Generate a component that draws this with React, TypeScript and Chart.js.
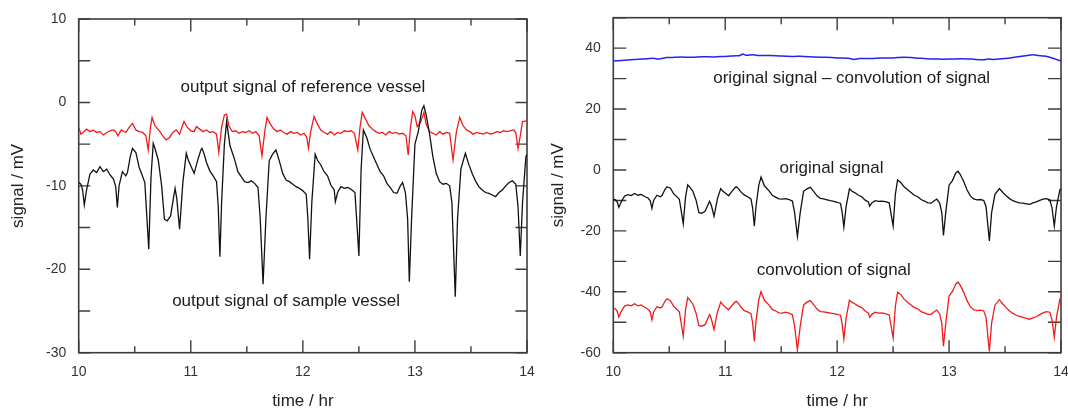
import React, { useEffect, useRef } from 'react';
import { Chart, registerables } from 'chart.js';

Chart.register(...registerables);

// ---------- data ----------
const timeHr = [
  10.00, 10.02, 10.035, 10.05, 10.07, 10.10, 10.13, 10.16, 10.19, 10.22,
  10.25, 10.28, 10.31, 10.33, 10.345, 10.36, 10.39, 10.42, 10.435, 10.46,
  10.48, 10.51, 10.54, 10.56, 10.59, 10.605, 10.625, 10.645, 10.665, 10.68,
  10.71, 10.74, 10.765, 10.79, 10.82, 10.845, 10.86, 10.875, 10.90, 10.93,
  10.96, 10.98, 11.00, 11.03, 11.06, 11.09, 11.10, 11.12, 11.14, 11.17,
  11.20, 11.23, 11.245, 11.26, 11.275, 11.30, 11.32, 11.35, 11.39, 11.42,
  11.45, 11.48, 11.51, 11.54, 11.57, 11.60, 11.62, 11.645, 11.67, 11.70,
  11.73, 11.76, 11.79, 11.82, 11.85, 11.88, 11.91, 11.94, 11.97, 12.00,
  12.03, 12.045, 12.06, 12.08, 12.11, 12.13, 12.16, 12.19, 12.22, 12.25,
  12.28, 12.29, 12.31, 12.34, 12.37, 12.40, 12.43, 12.465, 12.48, 12.50,
  12.52, 12.54, 12.57, 12.60, 12.63, 12.66, 12.69, 12.72, 12.75, 12.78,
  12.81, 12.84, 12.87, 12.89, 12.915, 12.935, 12.95, 12.97, 13.00, 13.03,
  13.06, 13.08, 13.10, 13.13, 13.16, 13.19, 13.22, 13.25, 13.28, 13.31,
  13.33, 13.36, 13.38, 13.41, 13.45, 13.48, 13.51, 13.54, 13.57, 13.60,
  13.63, 13.66, 13.69, 13.72, 13.75, 13.78, 13.81, 13.84, 13.87, 13.90,
  13.92, 13.94, 13.96, 13.99, 14.00,
];

// output signal of sample vessel (= original signal)
const sampleVessel = [
  -9.6, -9.8, -10.5, -12.3, -10.5, -8.6, -8.1, -8.4, -7.7, -8.3,
  -8.0, -8.7, -9.2, -10.1, -12.6, -10.0, -8.3, -8.8, -8.4, -6.5,
  -5.5, -6.0, -7.8, -8.5, -9.6, -13, -17.6, -9, -4.9, -5.5,
  -6.9, -10.0, -14.0, -14.2, -13.6, -11.5, -10.3, -11.5, -15.2, -9.5,
  -6.1, -7.0, -7.6, -8.5, -7.0, -5.7, -5.5, -6.2, -7.2, -8.2,
  -8.8, -9.5, -12.5, -18.5, -12, -5.0, -2.3, -5.2, -6.8, -8.3,
  -8.9, -9.5, -9.6, -9.4, -9.7, -10.2, -14, -21.8, -14, -7.0,
  -6.2, -5.7, -7.0, -8.5, -9.3, -9.5, -9.8, -10.1, -10.3, -10.6,
  -11.0, -14, -18.8, -12, -6.2, -6.9, -7.5, -8.3, -8.8, -9.9,
  -10.5, -11.9, -10.8, -10.1, -10.3, -10.2, -10.4, -10.8, -14, -18.4,
  -8, -3.3, -4.2, -5.6, -6.5, -7.4, -8.3, -8.8, -9.7, -10.2,
  -10.8, -10.9, -10.0, -9.6, -10.8, -14, -21.5, -14, -5.0, -3.5,
  -1.0, -0.4, -1.5, -3.7, -6.5, -8.5, -9.5, -9.8, -9.7, -10.0,
  -12, -23.3, -14, -8.0, -6.1, -7.4, -8.5, -9.4, -10.1, -10.5,
  -10.8, -10.9, -11.1, -11.3, -10.8, -10.5, -10.0, -9.6, -9.4, -9.8,
  -12.5, -18.4, -12, -6.5, -6.2,
];

// convolution of signal (right chart, red)
const convolution = [
  -45.4, -45.7, -46.4, -48.3, -46.5, -44.7, -44.3, -44.6, -43.9, -44.6,
  -44.3, -45.1, -45.7, -46.6, -49.2, -46.6, -44.9, -45.3, -45.0, -43.2,
  -42.3, -42.9, -44.8, -45.5, -46.6, -50.0, -54.6, -46.0, -41.9, -42.6,
  -44.0, -47.1, -51.1, -51.3, -50.8, -48.7, -47.5, -48.7, -52.4, -46.7,
  -43.4, -44.3, -45.0, -45.9, -44.5, -43.3, -43.1, -43.9, -45.0, -46.2,
  -46.6, -47.2, -50.2, -56.2, -49.7, -42.6, -39.9, -42.8, -44.3, -45.8,
  -46.3, -46.9, -47.0, -46.7, -47.0, -47.5, -51.3, -59.1, -51.3, -44.3,
  -43.4, -42.9, -44.2, -45.7, -46.5, -46.6, -46.8, -47.0, -47.2, -47.4,
  -47.7, -50.7, -55.5, -48.6, -42.8, -43.4, -44.0, -44.7, -45.2, -46.3,
  -47.0, -48.4, -47.4, -46.7, -47.0, -46.9, -47.2, -47.6, -50.8, -55.2,
  -44.8, -40.1, -41.0, -42.5, -43.4, -44.3, -45.2, -45.6, -46.5, -46.9,
  -47.4, -47.4, -46.5, -46.0, -47.2, -50.4, -57.9, -50.4, -41.4, -39.9,
  -37.4, -36.8, -37.9, -40.1, -42.9, -44.9, -45.9, -46.2, -46.0, -46.3,
  -48.3, -59.6, -50.3, -44.4, -42.6, -44.0, -45.2, -46.3, -47.1, -47.7,
  -48.1, -48.4, -48.7, -49.0, -48.6, -48.2, -47.5, -46.9, -46.5, -46.7,
  -49.2, -54.9, -48.3, -42.4, -42.0,
];

const timeRef = [
  10.00, 10.02, 10.04, 10.07, 10.10, 10.13, 10.16, 10.19, 10.22, 10.25,
  10.28, 10.31, 10.33, 10.35, 10.38, 10.42, 10.46, 10.48, 10.51, 10.54,
  10.57, 10.60, 10.62, 10.64, 10.655, 10.68, 10.72, 10.75, 10.78, 10.81,
  10.84, 10.87, 10.90, 10.92, 10.94, 10.97, 11.00, 11.03, 11.05, 11.08,
  11.11, 11.14, 11.17, 11.20, 11.23, 11.25, 11.275, 11.30, 11.32, 11.34,
  11.37, 11.40, 11.43, 11.46, 11.49, 11.52, 11.55, 11.58, 11.61, 11.635,
  11.66, 11.68, 11.71, 11.74, 11.77, 11.80, 11.83, 11.86, 11.89, 11.92,
  11.95, 11.98, 12.01, 12.035, 12.05, 12.07, 12.10, 12.13, 12.16, 12.19,
  12.22, 12.25, 12.28, 12.31, 12.34, 12.37, 12.40, 12.43, 12.46, 12.49,
  12.51, 12.53, 12.56, 12.59, 12.62, 12.65, 12.68, 12.71, 12.74, 12.77,
  12.80, 12.83, 12.86, 12.89, 12.92, 12.94, 12.96, 12.98, 13.00, 13.02,
  13.05, 13.08, 13.10, 13.13, 13.16, 13.19, 13.22, 13.25, 13.28, 13.31,
  13.34, 13.37, 13.40, 13.43, 13.46, 13.49, 13.52, 13.55, 13.58, 13.61,
  13.64, 13.67, 13.70, 13.73, 13.76, 13.79, 13.82, 13.85, 13.88, 13.90,
  13.92, 13.94, 13.96, 14.00,
];

// output signal of reference vessel (left chart, red)
const referenceVessel = [
  -3.0, -3.8, -3.6, -3.2, -3.5, -3.3, -3.6, -3.5, -3.9, -3.6,
  -3.4, -3.3, -3.5, -4.0, -3.3, -3.6, -2.8, -2.5, -3.3, -3.5,
  -3.6, -4.0, -5.7, -3.0, -1.8, -2.8, -3.4, -4.0, -4.5, -4.2,
  -3.6, -3.3, -3.8, -3.0, -2.3, -3.0, -3.4, -3.5, -2.9, -3.2,
  -3.5, -3.3, -3.6, -3.5, -3.8, -6.0, -3.0, -1.5, -1.4, -2.8,
  -3.5, -3.4, -3.7, -3.5, -3.6, -3.4, -3.7, -3.5, -4.0, -6.4,
  -3.5, -1.8, -2.6, -3.2, -3.5, -3.3, -3.6, -3.8, -3.5, -3.7,
  -3.6, -3.9, -3.7, -4.2, -5.5, -3.5, -1.7, -2.6, -3.3, -3.6,
  -3.8, -3.5, -3.9, -3.6, -3.7, -3.4, -3.5, -3.4, -3.7, -5.7,
  -3.0, -1.2, -2.0, -2.8, -3.2, -3.5, -3.7, -3.6, -3.9, -3.5,
  -3.7, -3.6, -3.8, -3.7, -4.0, -6.3, -3.0, -1.1, -1.6, -2.9,
  -2.4, -1.2, -2.6, -3.5, -3.7, -3.9, -3.5, -3.8, -3.6, -3.7,
  -6.9, -3.5, -1.8, -2.8, -3.3, -3.5, -3.8, -3.6, -3.7, -3.8,
  -3.6, -3.8, -3.7, -3.5, -3.6, -3.4, -3.5, -3.4, -3.3, -3.6,
  -5.5, -4.0, -2.3, -2.2,
];

const timeDiff = [
  10.0, 10.05, 10.1, 10.15, 10.2, 10.25, 10.3, 10.36, 10.4, 10.43,
  10.48, 10.55, 10.6, 10.7, 10.8, 10.9, 11.0, 11.05, 11.1, 11.13,
  11.16, 11.18, 11.25, 11.3, 11.4, 11.5, 11.6, 11.7, 11.8, 11.9,
  12.0, 12.1, 12.15, 12.2, 12.3, 12.4, 12.5, 12.6, 12.7, 12.8,
  12.9, 13.0, 13.1, 13.2, 13.3, 13.35, 13.4, 13.5, 13.6, 13.7,
  13.75, 13.8, 13.85, 13.9, 13.95, 14.0,
];

// original signal – convolution of signal (right chart, blue)
const difference = [
  35.8, 35.9, 36.0, 36.2, 36.3, 36.4, 36.5, 36.7, 36.4, 36.6,
  36.9, 37.0, 37.1, 37.0, 37.2, 37.1, 37.3, 37.4, 37.5, 37.6,
  38.1, 37.7, 37.8, 37.6, 37.6, 37.4, 37.3, 37.3, 37.1, 37.0,
  36.8, 36.7, 36.3, 36.6, 36.6, 36.8, 36.8, 37.0, 36.8, 36.5,
  36.4, 36.4, 36.5, 36.4, 36.2, 36.4, 36.3, 36.6, 37.1, 37.6,
  37.8, 37.6, 37.4, 37.0, 36.4, 35.8,
];

const leftNotes = [
  { text: 'output signal of reference vessel', x: 12.0, y: 1.8 },
  { text: 'output signal of sample vessel', x: 11.85, y: -23.9 },
];
const rightNotes = [
  { text: 'original signal \u2013 convolution of signal', x: 12.13, y: 30.1 },
  { text: 'original signal', x: 11.95, y: 0.5 },
  { text: 'convolution of signal', x: 11.97, y: -33.1 },
];

// ---------- helpers ----------
const FONT = '"Liberation Sans", Arial, Helvetica, sans-serif';
const AXIS_COLOR = '#3c3c3c';

const pts = (xs: number[], ys: number[]) => xs.map((x, i) => ({ x, y: ys[i] }));

const framePlugin = {
  id: 'frameTicks',
  beforeDatasetsDraw(chart: any, _args: any, opts: any) {
    const { ctx, chartArea: a, scales } = chart;
    const xs = scales.x;
    const ys = scales.y;
    ctx.save();
    ctx.strokeStyle = AXIS_COLOR;
    ctx.lineWidth = 1.6;
    ctx.strokeRect(a.left, a.top, a.right - a.left, a.bottom - a.top);
    ctx.lineWidth = 1.4;
    ctx.beginPath();
    const nx = Math.round((xs.max - xs.min) / opts.xMinor);
    for (let i = 0; i <= nx; i++) {
      const v = xs.min + i * opts.xMinor;
      const px = xs.getPixelForValue(v);
      const major = Math.abs(v / opts.xMajor - Math.round(v / opts.xMajor)) < 1e-6;
      const len = major ? opts.xMajorLen : opts.xMinorLen;
      ctx.moveTo(px, a.bottom);
      ctx.lineTo(px, a.bottom - len);
      ctx.moveTo(px, a.top);
      ctx.lineTo(px, a.top + len);
    }
    const ny = Math.round((ys.max - ys.min) / opts.yMinor);
    for (let i = 0; i <= ny; i++) {
      const v = ys.min + i * opts.yMinor;
      const py = ys.getPixelForValue(v);
      ctx.moveTo(a.left, py);
      ctx.lineTo(a.left + opts.yLen, py);
      ctx.moveTo(a.right, py);
      ctx.lineTo(a.right - opts.yLen, py);
    }
    ctx.stroke();
    ctx.restore();
  },
  afterDatasetsDraw(chart: any, _args: any, opts: any) {
    const { ctx, scales } = chart;
    ctx.save();
    ctx.fillStyle = '#1c1c1c';
    ctx.font = `${opts.noteSize}px ${FONT}`;
    ctx.textAlign = 'center';
    ctx.textBaseline = 'middle';
    for (const n of opts.notes) {
      ctx.fillText(n.text, scales.x.getPixelForValue(n.x), scales.y.getPixelForValue(n.y));
    }
    ctx.restore();
  },
};

function makeConfig(p: {
  datasets: any[];
  yMin: number; yMax: number; yStep: number; yMinor: number; yLen: number; yLabelMax: number;
  padTop: number; padRight: number; yWidth: number; notes: any[];
}) {
  return {
    type: 'line',
    data: { datasets: p.datasets },
    plugins: [framePlugin],
    options: {
      animation: false,
      responsive: false,
      maintainAspectRatio: false,
      devicePixelRatio: 1,
      layout: { padding: { left: 0, top: p.padTop, right: p.padRight, bottom: 0 } },
      elements: { point: { radius: 0, hoverRadius: 0 }, line: { tension: 0, borderWidth: 1.3 } },
      plugins: {
        legend: { display: false },
        tooltip: { enabled: false },
        frameTicks: {
          xMinor: 0.5, xMajor: 1, xMajorLen: 12.5, xMinorLen: 6.5,
          yMinor: p.yMinor, yLen: p.yLen, notes: p.notes, noteSize: 17,
        },
      },
      scales: {
        x: {
          type: 'linear',
          min: 10,
          max: 14,
          grid: { display: false, drawTicks: false },
          border: { display: false },
          ticks: {
            stepSize: 1, padding: 11.5, color: '#333', autoSkip: false, maxRotation: 0,
            font: { family: FONT, size: 14 },
          },
          title: {
            display: true, text: 'time / hr', color: '#222',
            font: { family: FONT, size: 17, lineHeight: 1.0 },
            padding: { top: 0, bottom: -0.5 },
          },
          afterFit(s: any) {
            s.height = 56.3;
            s.paddingLeft = 0;
            s.paddingRight = 0;
          },
        },
        y: {
          type: 'linear',
          min: p.yMin,
          max: p.yMax,
          grid: { display: false, drawTicks: false },
          border: { display: false },
          afterBuildTicks(s: any) {
            s.ticks = s.ticks.filter((t: any) => t.value <= p.yLabelMax);
          },
          ticks: {
            stepSize: p.yStep, padding: 12.5, color: '#333',
            font: { family: FONT, size: 14 },
          },
          title: {
            display: true, text: 'signal / mV', color: '#222',
            font: { family: FONT, size: 17, lineHeight: 1.0 },
            padding: { top: 9.5, bottom: 0 },
          },
          afterFit(s: any) {
            s.width = p.yWidth;
            s.paddingTop = 0;
            s.paddingBottom = 0;
          },
        },
      },
    },
  };
}

function ChartCanvas({ config, left, width }: { config: any; left: number; width: number }) {
  const ref = useRef<HTMLCanvasElement | null>(null);
  useEffect(() => {
    if (!ref.current) return;
    const chart = new Chart(ref.current, config);
    return () => chart.destroy();
  }, []);
  return (
    <canvas
      ref={ref}
      width={width}
      height={409}
      style={{ position: 'absolute', left, top: 0, width, height: 409, display: 'block' }}
    />
  );
}

const BLACK = '#111111';
const RED = '#ee1c1c';
const BLUE = '#2424ee';

const leftConfig = makeConfig({
  datasets: [
    { data: pts(timeHr, sampleVessel), borderColor: BLACK, borderWidth: 1.3 },
    { data: pts(timeRef, referenceVessel), borderColor: RED, borderWidth: 1.3 },
  ],
  yMin: -30, yMax: 10, yStep: 10, yMinor: 5, yLen: 11.5, yLabelMax: 10,
  padTop: 19, padRight: 13, yWidth: 78.7, notes: leftNotes,
});

const rightConfig = makeConfig({
  datasets: [
    { data: pts(timeDiff, difference), borderColor: BLUE, borderWidth: 1.5, tension: 0.3 },
    { data: pts(timeHr, sampleVessel), borderColor: BLACK, borderWidth: 1.3 },
    { data: pts(timeHr, convolution), borderColor: RED, borderWidth: 1.3 },
  ],
  yMin: -60, yMax: 50, yStep: 20, yMinor: 10, yLen: 13, yLabelMax: 40,
  padTop: 17.7, padRight: 7, yWidth: 73.3, notes: rightNotes,
});

export default function App() {
  return (
    <div style={{ position: 'absolute', left: 0, top: 0, width: 1068, height: 409, background: '#fff', overflow: 'hidden' }}>
      <ChartCanvas config={leftConfig} left={0} width={540} />
      <ChartCanvas config={rightConfig} left={540} width={528} />
    </div>
  );
}
